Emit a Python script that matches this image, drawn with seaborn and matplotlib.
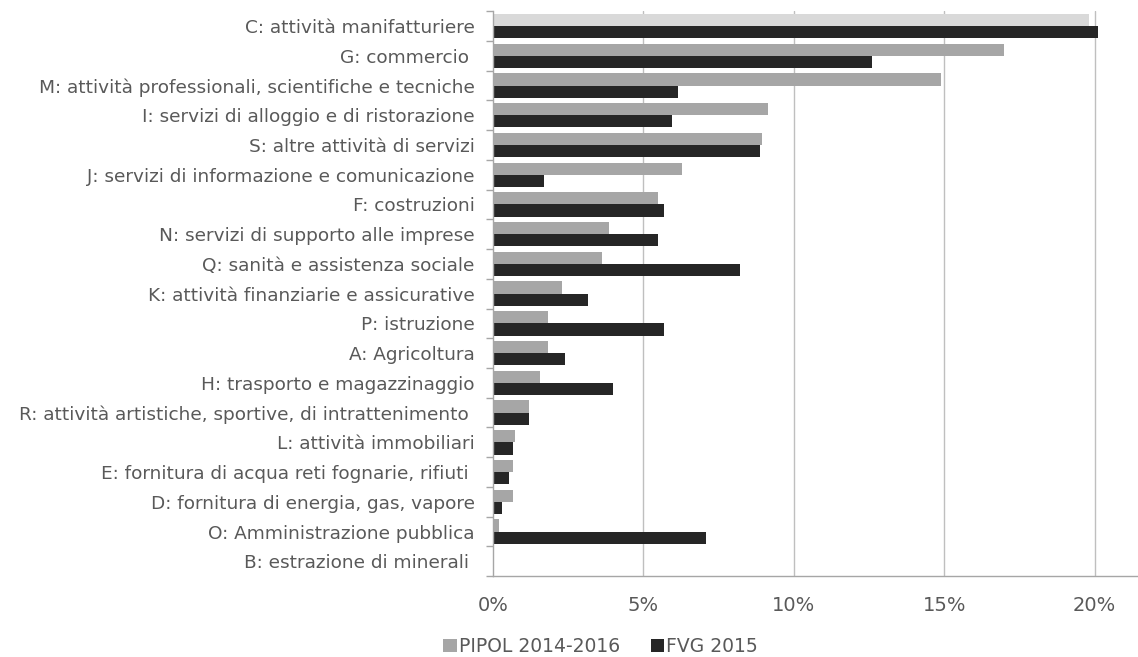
import matplotlib
matplotlib.use("Agg")
import matplotlib.pyplot as plt
from matplotlib.ticker import PercentFormatter, FixedLocator
from matplotlib.patches import Patch
import seaborn as sns
import pandas as pd

categories = [
    "C: attività manifatturiere",
    "G: commercio ",
    "M: attività professionali, scientifiche e tecniche",
    "I: servizi di alloggio e di ristorazione",
    "S: altre attività di servizi",
    "J: servizi di informazione e comunicazione",
    "F: costruzioni",
    "N: servizi di supporto alle imprese",
    "Q: sanità e assistenza sociale",
    "K: attività finanziarie e assicurative",
    "P: istruzione",
    "A: Agricoltura",
    "H: trasporto e magazzinaggio",
    "R: attività artistiche, sportive, di intrattenimento ",
    "L: attività immobiliari",
    "E: fornitura di acqua reti fognarie, rifiuti ",
    "D: fornitura di energia, gas, vapore",
    "O: Amministrazione pubblica",
    "B: estrazione di minerali ",
]
pipol = [19.8, 17.0, 14.9, 9.13, 8.94, 6.28, 5.50, 3.85, 3.62, 2.30, 1.83, 1.83,
         1.56, 1.20, 0.74, 0.67, 0.67, 0.20, 0.03]
fvg = [20.1, 12.6, 6.14, 5.97, 8.89, 1.70, 5.70, 5.50, 8.22, 3.15, 5.68, 2.40,
       3.98, 1.19, 0.67, 0.54, 0.32, 7.07, 0.0]
series_names = ["PIPOL 2014-2016", "FVG 2015"]

df = pd.DataFrame({
    "settore": categories * 2,
    "valore": pipol + fvg,
    "serie": [series_names[0]] * len(categories) + [series_names[1]] * len(categories),
})

colors = {"PIPOL 2014-2016": "#a6a6a6", "FVG 2015": "#262626"}
text_color = "#595959"

sns.set_theme(style="white")
plt.rcParams["font.family"] = ["DejaVu Sans"]

fig, ax = plt.subplots(figsize=(11.38, 6.57), dpi=100)
fig.subplots_adjust(left=0.433, right=0.999, top=0.983, bottom=0.123)

sns.barplot(data=df, y="settore", x="valore", hue="serie", orient="h",
            palette=colors, width=0.82, ax=ax, legend=False, saturation=1,
            edgecolor="none", linewidth=0)

# first PIPOL bar is highlighted lighter in the original
ax.containers[0][0].set_facecolor("#d9d9d9")

ax.set_xlim(0, 21.4)
ax.set_ylim(len(categories) - 0.5, -0.5)
ax.xaxis.set_major_locator(FixedLocator([0, 5, 10, 15, 20]))
ax.xaxis.set_major_formatter(PercentFormatter(decimals=0))
ax.set_xlabel("")
ax.set_ylabel("")

for x in [5, 10, 15, 20]:
    ax.axvline(x, color="#bfbfbf", lw=1, zorder=0)

for side in ["top", "right"]:
    ax.spines[side].set_visible(False)
for side in ["left", "bottom"]:
    ax.spines[side].set_color("#a6a6a6")
    ax.spines[side].set_linewidth(1)

ax.tick_params(axis="y", which="major", length=0, labelsize=13.3, labelcolor=text_color, pad=13)
ax.yaxis.set_minor_locator(FixedLocator([i - 0.5 for i in range(len(categories) + 1)]))
ax.tick_params(axis="y", which="minor", length=5, color="#a6a6a6", left=True)
ax.tick_params(axis="x", which="major", length=0, labelsize=14, labelcolor=text_color, pad=14)

handles = [Patch(facecolor=colors[s], edgecolor="none", label=s) for s in series_names]
fig.legend(handles=handles, loc="lower center", ncol=2, frameon=False,
           bbox_to_anchor=(0.528, -0.016), borderpad=0.1, fontsize=13.5,
           labelcolor=text_color, handlelength=0.7, handleheight=0.7,
           handletextpad=0.15, columnspacing=1.6)

fig.savefig("out.png", dpi=100)
